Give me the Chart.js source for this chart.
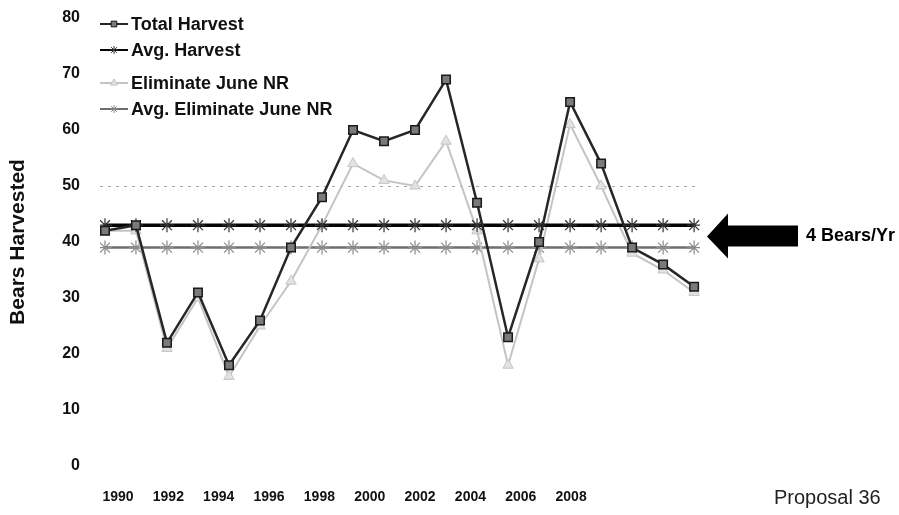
<!DOCTYPE html>
<html>
<head>
<meta charset="utf-8">
<title>Bears Harvested</title>
<script src="https://cdn.jsdelivr.net/npm/chart.js@4.4.1/dist/chart.umd.min.js"></script>
<style>
  html, body { margin: 0; padding: 0; background: #fff; }
  #wrap { width: 899px; height: 515px; }
</style>
</head>
<body>
<div id="wrap"><canvas id="harvestChart"></canvas></div>
<script>
  // values
  const years = [1990, 1991, 1992, 1993, 1994, 1995, 1996, 1997, 1998, 1999,
                 2000, 2001, 2002, 2003, 2004, 2005, 2006, 2007, 2008, 2009];
  const totalHarvest = [42, 43, 22, 31, 18, 26, 39, 48, 60, 58, 60, 69, 47, 23, 40, 65, 54, 39, 36, 32];
  const avgHarvest = [43, 43, 43, 43, 43, 43, 43, 43, 43, 43, 43, 43, 43, 43, 43, 43, 43, 43, 43, 43];
  const eliminateJuneNR = [42, 42, 21, 30, 16, 25, 33, 43, 54, 51, 50, 58, 42, 18, 37, 61, 50, 38, 35, 31];
  const avgEliminateJuneNR = [39, 39, 39, 39, 39, 39, 39, 39, 39, 39, 39, 39, 39, 39, 39, 39, 39, 39, 39, 39];
  const seriesNames = ["Total Harvest", "Avg. Harvest", "Eliminate June NR", "Avg. Eliminate June NR"];
  const tickYears = [1990, 1992, 1994, 1996, 1998, 2000, 2002, 2004, 2006, 2008];
  const yTicks = [0, 10, 20, 30, 40, 50, 60, 70, 80];

  const font = 'Arial, "Liberation Sans", sans-serif';
  const toPoints = values => years.map((yr, i) => ({ x: yr, y: values[i] }));

  // legend, arrow and side notes
  const notes = {
    id: 'notes',
    afterDraw(chart) {
      const { ctx, chartArea, scales } = chart;
      ctx.save();

      const rows = [24, 50, 83, 109];
      chart.data.datasets.forEach((ds, i) => {
        const y = rows[i];
        ctx.strokeStyle = ds.borderColor;
        ctx.lineWidth = Math.min(ds.borderWidth, 2);
        ctx.beginPath();
        ctx.moveTo(100, y);
        ctx.lineTo(128, y);
        ctx.stroke();
        if (Chart.helpers && Chart.helpers.drawPoint) {
          ctx.fillStyle = ds.pointBackgroundColor;
          ctx.strokeStyle = ds.pointBorderColor;
          ctx.lineWidth = 1;
          Chart.helpers.drawPoint(ctx, { pointStyle: ds.pointStyle, radius: 4, rotation: 0, borderWidth: 1 }, 114, y);
        }
        ctx.fillStyle = '#111';
        ctx.font = 'bold 18px ' + font;
        ctx.textAlign = 'left';
        ctx.textBaseline = 'middle';
        ctx.fillText(ds.label, 131, y + 1);
      });

      // arrow pointing at the gap between the two averages
      const midY = scales.y.getPixelForValue((avgHarvest[0] + avgEliminateJuneNR[0]) / 2);
      const tipX = chartArea.right + 7;
      ctx.fillStyle = '#000';
      ctx.beginPath();
      ctx.moveTo(tipX, midY);
      ctx.lineTo(tipX + 21, midY - 23);
      ctx.lineTo(tipX + 21, midY - 11);
      ctx.lineTo(tipX + 91, midY - 11);
      ctx.lineTo(tipX + 91, midY + 10);
      ctx.lineTo(tipX + 21, midY + 10);
      ctx.lineTo(tipX + 21, midY + 22);
      ctx.closePath();
      ctx.fill();

      ctx.font = 'bold 18px ' + font;
      ctx.textAlign = 'left';
      ctx.textBaseline = 'middle';
      ctx.fillText('4 Bears/Yr', tipX + 99, midY);

      ctx.fillStyle = '#222';
      ctx.font = '20px ' + font;
      ctx.fillText('Proposal 36', 774, 498);
      ctx.restore();
    }
  };

  new Chart(document.getElementById('harvestChart'), {
    type: 'line',
    data: {
      datasets: [
        {
          label: seriesNames[0],
          data: toPoints(totalHarvest),
          borderColor: '#262626',
          borderWidth: 2.5,
          pointStyle: 'rect',
          pointRadius: 6,
          pointBackgroundColor: '#7a7a7a',
          pointBorderColor: '#1a1a1a',
          pointBorderWidth: 1.5,
          tension: 0
        },
        {
          label: seriesNames[1],
          data: toPoints(avgHarvest),
          borderColor: '#050505',
          borderWidth: 3.5,
          pointStyle: 'star',
          pointRadius: 7,
          pointBackgroundColor: '#555',
          pointBorderColor: '#333',
          pointBorderWidth: 1.2,
          tension: 0
        },
        {
          label: seriesNames[2],
          data: toPoints(eliminateJuneNR),
          borderColor: '#c4c4c4',
          borderWidth: 2,
          pointStyle: 'triangle',
          pointRadius: 6,
          pointBackgroundColor: '#e2e2e2',
          pointBorderColor: '#c4c4c4',
          pointBorderWidth: 1,
          tension: 0
        },
        {
          label: seriesNames[3],
          data: toPoints(avgEliminateJuneNR),
          borderColor: '#6e6e6e',
          borderWidth: 2.5,
          pointStyle: 'star',
          pointRadius: 7,
          pointBackgroundColor: '#999',
          pointBorderColor: '#8a8a8a',
          pointBorderWidth: 1.2,
          tension: 0
        }
      ]
    },
    options: {
      responsive: true,
      maintainAspectRatio: false,
      animation: false,
      layout: { padding: { top: 18, right: 199, bottom: 9, left: 0 } },
      plugins: {
        legend: { display: false },
        tooltip: { enabled: false }
      },
      scales: {
        x: {
          type: 'linear',
          display: false,
          min: 1989.84,
          max: 2009.19
        },
        xl: {
          type: 'linear',
          position: 'bottom',
          min: 1989.285,
          max: 2013.12,
          afterBuildTicks: axis => { axis.ticks = tickYears.map(v => ({ value: v })); },
          afterFit: axis => { axis.height = 40; },
          grid: { display: false, drawTicks: false },
          border: { display: false },
          ticks: {
            autoSkip: false,
            maxRotation: 0,
            padding: 23,
            color: '#111',
            font: { family: font, size: 14, weight: 'bold' },
            callback: v => String(v)
          }
        },
        y: {
          min: 0,
          max: 80,
          afterFit: axis => {
            axis.width = 100;
            axis.paddingTop = 0;
            axis.paddingBottom = 0;
          },
          afterBuildTicks: axis => { axis.ticks = yTicks.map(v => ({ value: v })); },
          title: {
            display: true,
            text: 'Bears Harvested',
            color: '#111',
            font: { family: font, size: 21, weight: 'bold' },
            padding: { top: 6, bottom: 0 }
          },
          grid: {
            drawTicks: false,
            color: c => (c.tick && c.tick.value === 50) ? '#a8a8a8' : 'rgba(0,0,0,0)',
            lineWidth: 1
          },
          border: { display: false, dash: [3, 5] },
          ticks: {
            padding: 20,
            color: '#111',
            font: { family: font, size: 16, weight: 'bold' }
          }
        }
      }
    },
    plugins: [notes]
  });
</script>
</body>
</html>
